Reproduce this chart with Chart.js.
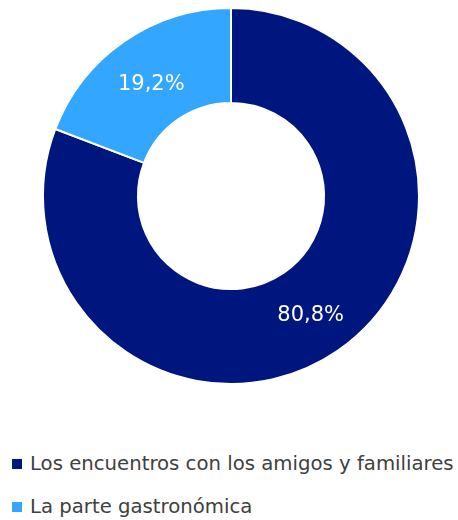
<!DOCTYPE html>
<html>
<head>
<meta charset="utf-8">
<script src="https://cdn.jsdelivr.net/npm/chart.js@4"></script>
<style>
    html, body { margin: 0; padding: 0; background: #fff; }
    #wrap { width: 458px; height: 520px; position: relative; font-family: 'DejaVu Sans', Verdana, sans-serif; }
    #chartBox { width: 458px; height: 400px; position: relative; }
    #legend { position: absolute; left: 12px; top: 450px; margin: 0; padding: 0; list-style: none; }
    #legend li { height: 43px; line-height: 28px; font-size: 19.7px; color: #404040; white-space: nowrap; }
    #legend .box { display: inline-block; width: 10px; height: 10px; margin-right: 8px; vertical-align: 1px; }
</style>
</head>
<body>
<div id="wrap">
    <div id="chartBox"><canvas id="chart"></canvas></div>
    <ul id="legend"></ul>
</div>
<script>
// chart data
const categories = ['Los encuentros con los amigos y familiares', 'La parte gastronómica'];
const values = [80.8, 19.2];
const colors = ['#00167F', '#33A6FF'];

const fontFamily = "'DejaVu Sans', Verdana, sans-serif";

// draws the value in the middle of each slice
const sliceLabels = {
    id: 'sliceLabels',
    afterDatasetsDraw(chart) {
        const ctx = chart.ctx;
        const meta = chart.getDatasetMeta(0);
        ctx.save();
        ctx.fillStyle = '#fff';
        ctx.font = '21px ' + fontFamily;
        ctx.textAlign = 'center';
        ctx.textBaseline = 'middle';
        meta.data.forEach((arc, i) => {
            const p = arc.tooltipPosition();
            ctx.fillText(values[i].toFixed(1).replace('.', ',') + '%', p.x, p.y + 4);
        });
        ctx.restore();
    }
};

new Chart(document.getElementById('chart'), {
    type: 'doughnut',
    data: {
        labels: categories,
        datasets: [{
            data: values,
            backgroundColor: colors,
            borderColor: '#fff',
            borderWidth: 2
        }]
    },
    options: {
        responsive: true,
        maintainAspectRatio: false,
        animation: false,
        cutout: '49.5%',
        layout: { padding: { top: 7, bottom: 15, left: 4, right: 0 } },
        plugins: {
            tooltip: { enabled: false },
            legend: { display: false }
        }
    },
    plugins: [sliceLabels]
});

// html legend built from the same arrays
document.getElementById('legend').innerHTML = categories.map((c, i) =>
    `<li><span class="box" style="background:${colors[i]}"></span>${c}</li>`
).join('');
</script>
</body>
</html>
